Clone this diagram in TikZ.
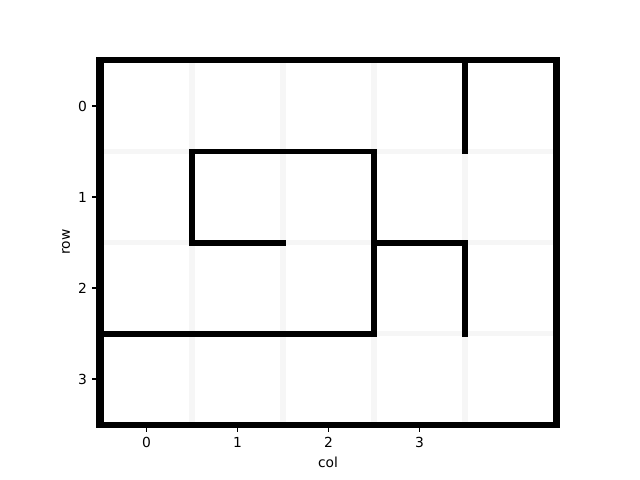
\documentclass[tikz,border=0pt]{standalone}
\usepackage{fontspec}
\setmainfont{DejaVu Sans}
\tikzset{
  gridline/.style={line width=4pt, draw=white!96.5!black},
  wall/.style={line width=4.3pt, draw=black, line cap=rect, line join=miter},
  spine/.style={line width=0.8pt, draw=black},
  tick/.style={line width=0.8pt, draw=black},
  ticklabel/.style={inner sep=0pt, font=\fontsize{10pt}{12pt}\selectfont},
  axlabel/.style={inner sep=0pt, font=\fontsize{10pt}{12pt}\selectfont}
}
\begin{document}
\begin{tikzpicture}[x=0.01in,y=-0.01in]
\useasboundingbox (0,0) rectangle (640,480);
\fill[white] (0,0) rectangle (640,480);
\begin{scope}[shift={(146.5,106)}, x=0.91in, y=-0.91in]
  % light grid
  \foreach \gx in {0.5,1.5,2.5,3.5} \draw[gridline] (\gx,-0.5) -- (\gx,3.5);
  \foreach \gy in {0.5,1.5,2.5} \draw[gridline] (-0.5,\gy) -- (4.5,\gy);
  % walls
  \draw[wall] (-0.5,-0.5) rectangle (4.5,3.5);
  \draw[wall] (3.5,-0.5) -- (3.5,0.5);
  \draw[wall] (0.5,1.5) -- (0.5,0.5) -- (2.5,0.5) -- (2.5,2.5) -- (-0.5,2.5);
  \draw[wall] (0.5,1.5) -- (1.5,1.5);
  \draw[wall] (2.5,1.5) -- (3.5,1.5) -- (3.5,2.5);
\end{scope}
% axes spines
\draw[spine] (97,57.5) rectangle (559,427.5);
% x ticks
\foreach \i/\xp in {0/146.5,1/237.5,2/328.5,3/419.5} {
  \draw[tick] (\xp,427.5) -- (\xp,432.4);
  \node[ticklabel, anchor=north] (xt\i) at (\xp,437.3) {\i};
}
% y ticks
\foreach \i/\yp in {0/106,1/197,2/288,3/379} {
  \draw[tick] (97,\yp) -- (92.1,\yp);
  \node[ticklabel, anchor=east] (yt\i) at (87.2,\yp) {\i};
}
\node[axlabel] (xlab) at (328,462) {col};
\node[axlabel, rotate=90] (ylab) at (66,242) {row};
\end{tikzpicture}
\end{document}
